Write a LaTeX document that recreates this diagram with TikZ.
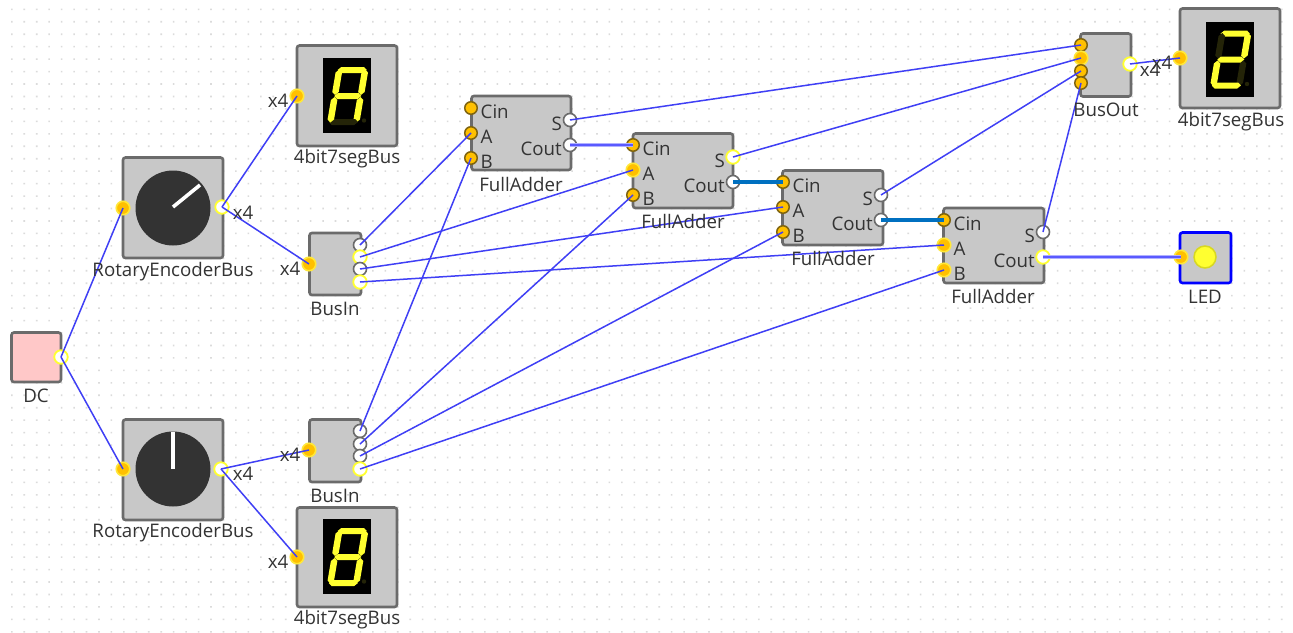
\documentclass[tikz,border=0pt]{standalone}
\usepackage{fontspec}
\setmainfont{Open Sans}
\definecolor{wire}{HTML}{3F3FF5}
\definecolor{buswire}{HTML}{0070C0}
\definecolor{glowwire}{HTML}{B0B0FF}
\definecolor{glowcore}{HTML}{5A5AFF}
\definecolor{blockfill}{HTML}{C8C8C8}
\definecolor{blockline}{HTML}{6B6B6B}
\definecolor{dcfill}{HTML}{FFC8C8}
\definecolor{gold}{HTML}{FFC000}
\definecolor{golddark}{HTML}{7F6410}
\definecolor{glowy}{HTML}{FFE83A}
\definecolor{segon}{HTML}{FFFF30}
\definecolor{segoff}{HTML}{242408}
\definecolor{ledline}{HTML}{D8D820}
\definecolor{txt}{HTML}{333333}
\newcommand{\hseg}[4]{\fill[#4] ({#1},{#3}) -- ({#1+3},{#3-3}) -- ({#2-3},{#3-3}) -- ({#2},{#3}) -- ({#2-3},{#3+3}) -- ({#1+3},{#3+3}) -- cycle;}
\newcommand{\vseg}[4]{\fill[#4] ({#3},{#1}) -- ({#3+3},{#1+3}) -- ({#3+3},{#2-3}) -- ({#3},{#2}) -- ({#3-3},{#2-3}) -- ({#3-3},{#1+3}) -- cycle;}
% digit: left, top of display, then colour of segments a b c d e f g
\newcommand{\sevenseg}[9]{%
  \fill[black] (#1,#2) rectangle ++(48,75);
  \begin{scope}[shift={(#1+13.5,#2+9)},xslant=0.17,xscale=1.08]
    \hseg{1.5}{28.5}{3}{#3}
    \vseg{2.5}{28}{27}{#4}
    \vseg{30}{55.5}{27}{#5}
    \hseg{1.5}{28.5}{55}{#6}
    \vseg{30}{55.5}{3}{#7}
    \vseg{2.5}{28}{3}{#8}
    \hseg{2.5}{27.5}{29}{#9}
  \end{scope}
  \fill[segoff] (#1+41,#2+62.5) circle (2.2);
}
\tikzset{
  x=1pt,y=-1pt,
  block/.style={draw=blockline,fill=blockfill,line width=2.6pt,rounded corners=2.5pt},
  inhi/.style={circle,inner sep=0,minimum size=13.5pt,fill=gold,draw=glowy,line width=1.6pt},
  inlo/.style={circle,inner sep=0,minimum size=12.5pt,fill=gold,draw=golddark,line width=1.5pt},
  outhi/.style={circle,inner sep=0,minimum size=13.5pt,fill=white,draw=segon,line width=1.8pt},
  outlo/.style={circle,inner sep=0,minimum size=13pt,fill=white,draw=blockline,line width=1.6pt},
  sig/.style={draw=wire,line width=1.5pt},
  glowsig/.style={draw=glowwire,line width=4.5pt},
  glowmid/.style={draw=glowcore,line width=1.6pt},
  bus/.style={draw=buswire,line width=3.4pt},
  lbl/.style={text=txt,font=\fontsize{18.7}{20}\selectfont,inner sep=0,anchor=center,yshift=-1.5pt},
  portlbl/.style={text=txt,font=\fontsize{18.7}{20}\selectfont,inner sep=0,yshift=-0.5pt},
}
\begin{document}
\begin{tikzpicture}
\useasboundingbox (0,0) rectangle (1293,632);
\fill[white] (0,0) rectangle (1293,632);
% grid
\fill[black!14] foreach \i in {0,...,103} {foreach \j in {0,...,50} {({11.8+\i*12.45-0.8},{9.3+\j*12.45-0.8}) rectangle ++(1.6,1.6)}};
% blocks
\draw[block,fill=dcfill] (11.5,332.5) rectangle (61,382);
\draw[block] (123,157.5) rectangle (223,258);
\draw[block] (123,419.5) rectangle (223,520);
\draw[block] (297,45.5) rectangle (397,146);
\draw[block] (297,507.5) rectangle (397,607);
\draw[block] (1180,8.5) rectangle (1280,108);
\draw[block] (309.5,233) rectangle (361,295);
\draw[block] (309.5,419.5) rectangle (361,482);
\draw[block] (471.5,96) rectangle (571,170);
\draw[block] (633,133.5) rectangle (733,208);
\draw[block] (782.5,170.5) rectangle (883,245);
\draw[block] (943.5,208) rectangle (1044,283);
\draw[block] (1080.5,33.5) rectangle (1131,96.5);
\draw[block,draw=blue] (1180,232.5) rectangle (1231,283);
% knobs
\fill[black!80] (173,208) circle (37.5);
\draw[white,line width=3.6pt] (173,207) -- (200,185);
\fill[black!80] (173,469) circle (37.5);
\draw[white,line width=3.6pt] (173,469) -- (173,432);
% displays
\sevenseg{323}{58}{segon}{segon}{segon}{segoff}{segon}{segon}{segon}
\sevenseg{323}{519}{segon}{segon}{segon}{segon}{segon}{segon}{segon}
\sevenseg{1206}{21.5}{segon}{segon}{segoff}{segon}{segon}{segoff}{segon}
% led
\fill[segon,draw=ledline,line width=1.5pt] (1205,257) circle (11);
% ports
\node[outhi] (dcout) at (61,357) {};
\node[inhi] (r1in) at (123,208) {};
\node[outhi] (r1out) at (222,207) {};
\node[inhi] (r2in) at (123,469) {};
\node[outhi] (r2out) at (221,469) {};
\node[inhi] (aIn) at (297,96) {};
\node[inhi] (bIn) at (297,557) {};
\node[inhi] (cIn) at (1180,58) {};
\node[inhi] (ledin) at (1181,257) {};
\node[inhi] (b1in) at (309,264) {};
\node[outlo] (b1a) at (360,245) {};
\node[outhi] (b1b) at (360,257) {};
\node[outlo] (b1c) at (360,269) {};
\node[outhi] (b1d) at (360,282) {};
\node[inhi] (b2in) at (309,450) {};
\node[outlo] (b2a) at (360,431) {};
\node[outlo] (b2b) at (360,444) {};
\node[outlo] (b2c) at (360,456) {};
\node[outhi] (b2d) at (360,469) {};
\node[inlo] (f1c) at (471,108) {};
\node[inlo] (f1a) at (471,133) {};
\node[inlo] (f1b) at (471,158) {};
\node[outlo] (f1s) at (570,120) {};
\node[outlo] (f1o) at (570,145) {};
\node[inlo] (f2c) at (633,145) {};
\node[inhi] (f2a) at (633,170) {};
\node[inlo] (f2b) at (633,195) {};
\node[outhi] (f2s) at (733,157) {};
\node[outlo] (f2o) at (733,182) {};
\node[inlo] (f3c) at (783,182) {};
\node[inlo] (f3a) at (783,207) {};
\node[inlo] (f3b) at (783,232) {};
\node[outlo] (f3s) at (881,195) {};
\node[outlo] (f3o) at (881,220) {};
\node[inlo] (f4c) at (944,220) {};
\node[inhi] (f4a) at (944,245) {};
\node[inhi] (f4b) at (944,270) {};
\node[outlo] (f4s) at (1043,232) {};
\node[outhi] (f4o) at (1043,257) {};
\node[inlo] (oa) at (1081,45) {};
\node[inhi] (ob) at (1081,58) {};
\node[inlo] (oc) at (1081,71) {};
\node[inlo] (od) at (1081,83) {};
\node[outhi] (oout) at (1130,64) {};
% wires
\foreach \p/\q in {dcout/r1in,dcout/r2in,r1out/aIn,r1out/b1in,r2out/b2in,r2out/bIn,
  b1a/f1a,b1b/f2a,b1c/f3a,b1d/f4a,b2a/f1b,b2b/f2b,b2c/f3b,b2d/f4b,
  f1s/oa,f2s/ob,f3s/oc,f4s/od,oout/cIn}
  \draw[sig] (\p.center) -- (\q.center);
\draw[glowsig] (f1o.center) -- (f2c.center);
\draw[glowsig] (f4o.center) -- (ledin.center);
\draw[glowmid] (f1o.center) -- (f2c.center);
\draw[glowmid] (f4o.center) -- (ledin.center);
\draw[bus] (f2o.center) -- (f3c.center);
\draw[bus] (f3o.center) -- (f4c.center);
% captions
\node[lbl] (t1) at (36,394) {DC};
\node[lbl] (t2) at (173,270) {RotaryEncoderBus};
\node[lbl] (t3) at (173,531) {RotaryEncoderBus};
\node[lbl] (t4) at (347,157) {4bit7segBus};
\node[lbl] (t5) at (347,618) {4bit7segBus};
\node[lbl] (t6) at (1231,120) {4bit7segBus};
\node[lbl] (t7) at (335,307) {BusIn};
\node[lbl] (t8) at (335,494) {BusIn};
\node[lbl] (t9) at (521,183) {FullAdder};
\node[lbl] (t10) at (683,220) {FullAdder};
\node[lbl] (t11) at (833,257) {FullAdder};
\node[lbl] (t12) at (993,295) {FullAdder};
\node[lbl] (t13) at (1106,108) {BusOut};
\node[lbl] (t14) at (1205,295) {LED};
\node[lbl] (x1) at (243,211) {x4};
\node[lbl] (x2) at (243,472) {x4};
\node[lbl] (x3) at (278,99) {x4};
\node[lbl] (x4) at (290,267) {x4};
\node[lbl] (x5) at (290,453) {x4};
\node[lbl] (x6) at (278,560) {x4};
\node[lbl] (x7) at (1150,68) {x4};
\node[lbl] (x8) at (1162,61) {x4};
% port labels
\foreach \px/\py in {471/108,633/145,783/182,944/220}{
  \node[portlbl,anchor=west] at (\px+9.5,\py+3) {Cin};
  \node[portlbl,anchor=west] at (\px+9.5,\py+28) {A};
  \node[portlbl,anchor=west] at (\px+9.5,\py+53) {B};
}
\foreach \px/\py in {570/120,733/157,881/195,1043/232}{
  \node[portlbl,anchor=east] at (\px-8,\py+3) {S};
  \node[portlbl,anchor=east] at (\px-8,\py+28) {Cout};
}
\end{tikzpicture}
\end{document}
